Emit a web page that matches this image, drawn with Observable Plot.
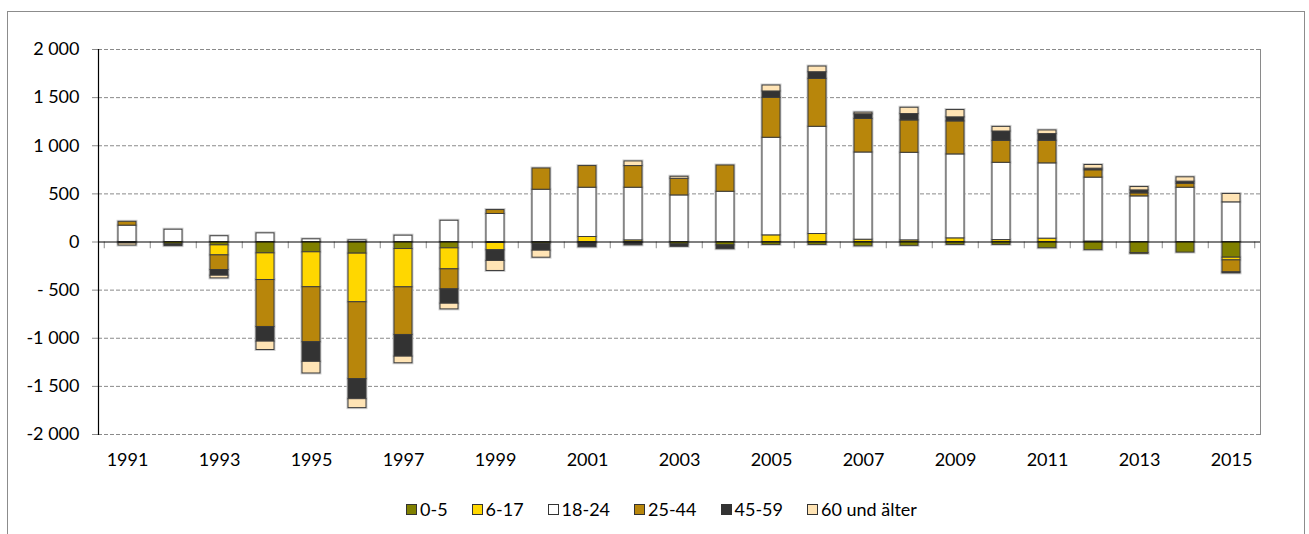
<!DOCTYPE html>
<html>
<head>
<meta charset="utf-8">
<script src="https://cdn.jsdelivr.net/npm/d3@7"></script>
<script src="https://cdn.jsdelivr.net/npm/@observablehq/plot@0.6"></script>
<style>
  html, body { margin: 0; padding: 0; background: #fff; width: 1309px; height: 534px; overflow: hidden; }
  body { font-family: Lato, "Open Sans", sans-serif; position: relative; }
  #outer { position: absolute; left: 7px; top: 11px; width: 1298px; height: 540px; border: 1px solid #8c8c8c; box-sizing: border-box; }
  #chart { position: absolute; left: 0; top: 0; }
  #legend { position: absolute; left: 406px; top: 499px; display: flex; align-items: center; font-size: 18px; line-height: 20px; color: #000; }
  #legend .item { display: flex; align-items: center; margin-right: 24px; }
  #legend .sw { width: 11px; height: 11px; box-sizing: border-box; border: 1px solid #333; margin-right: 3px; }
</style>
</head>
<body>
<div id="outer"></div>
<div id="chart"></div>
<div id="legend"></div>
<script>
const years = [1991, 1992, 1993, 1994, 1995, 1996, 1997, 1998, 1999, 2000, 2001, 2002, 2003,
               2004, 2005, 2006, 2007, 2008, 2009, 2010, 2011, 2012, 2013, 2014, 2015];
const series = ["0-5", "6-17", "18-24", "25-44", "45-59", "60 und älter"];
const colors = ["#808000", "#FFD700", "#FFFFFF", "#B8860B", "#333333", "#FFE4B5"];

const v0_5   = [0, -25, -35, -118, -107, -121, -73, -66, -10, -17, -15, -10, -25, -35, -30, -30, -45, -40, -30, -30, -65, -85, -115, -110, -163];
const v6_17  = [0, 0, -104, -277, -363, -505, -398, -218, -76, 0, 52, 17, 0, 0, 69, 83, 24, 17, 38, 20, 35, 5, -8, 0, -28];
const v18_24 = [170, 128, 60, 90, 28, 17, 66, 221, 291, 543, 512, 547, 484, 522, 1014, 1114, 906, 910, 872, 803, 782, 664, 474, 564, 412];
const v25_44 = [40, 0, -152, -488, -571, -799, -495, -208, 41, 221, 225, 225, 173, 273, 415, 498, 349, 336, 343, 228, 235, 76, 31, 42, -125];
const v45_59 = [-15, -18, -59, -152, -204, -208, -225, -149, -111, -73, -40, -25, -25, -40, 66, 69, 48, 66, 42, 97, 69, 17, 31, 21, -10];
const v60    = [-22, 0, -28, -87, -121, -93, -69, -59, -104, -73, 0, 48, 21, 0, 62, 59, 17, 66, 76, 48, 38, 38, 35, 45, 87];

const yTicks = [-2000, -1500, -1000, -500, 0, 500, 1000, 1500, 2000];
const yTickLabels = ["-2 000", "-1 500", "-1 000", "- 500", "0", "500", "1 000", "1 500", "2 000"];
const xTickLabels = ["1991", "1993", "1995", "1997", "1999", "2001", "2003", "2005", "2007", "2009", "2011", "2013", "2015"];

const allValues = [v0_5, v6_17, v18_24, v25_44, v45_59, v60];
const data = series.flatMap((s, i) => allValues[i].map((v, j) => ({year: years[j], group: s, value: v})))
                   .filter(d => d.value !== 0);

const W = 1309, ML = 98, MR = 49;
const step = (W - ML - MR) / years.length;

const chart = Plot.plot({
  width: W,
  height: 480,
  marginLeft: ML,
  marginRight: MR,
  marginTop: 49,
  marginBottom: 46,
  style: {fontFamily: "Lato, 'Open Sans', sans-serif", fontSize: "18px", color: "#000", background: "transparent", overflow: "visible"},
  x: {type: "band", domain: years, paddingInner: 0.6, paddingOuter: 0.3, label: null},
  y: {domain: [-2000, 2000], label: null},
  color: {domain: series, range: colors},
  marks: [
    Plot.ruleY(yTicks.filter(d => d !== 0), {stroke: "#8a8a8a", strokeDasharray: "4,2", strokeWidth: 1}),
    Plot.frame({anchor: "right", stroke: "#8a8a8a"}),
    Plot.axisY({ticks: yTicks, tickFormat: (d) => yTickLabels[yTicks.indexOf(d)], tickSize: 6, tickPadding: 13, stroke: "#8a8a8a", fill: "#000", label: null, fontSize: 18}),
    Plot.axisX({ticks: years.filter(y => xTickLabels.includes(String(y))), tickFormat: d => String(d), tickSize: 0, tickPadding: 19, fill: "#000", label: null, fontSize: 18}),
    Plot.barY(data, Plot.stackY({x: "year", y: "value", fill: "none", stroke: "#cfcfcf", strokeWidth: 3})),
    Plot.barY(data, Plot.stackY({x: "year", y: "value", fill: "group", stroke: "#3c3c3c", strokeWidth: 1})),
    Plot.ruleX(years, {x: d => d, y1: 0, y2: -70, dx: -step / 2, stroke: "#8a8a8a"}),
    Plot.ruleX([years[years.length - 1]], {x: d => d, y1: 0, y2: -70, dx: step / 2, stroke: "#8a8a8a"}),
    Plot.ruleY([0], {stroke: "#000", strokeWidth: 1.2}),
    Plot.frame({anchor: "left", stroke: "#000", strokeWidth: 1.2})
  ]
});
document.getElementById("chart").appendChild(chart);

const legend = document.getElementById("legend");
series.forEach((s, i) => {
  const item = document.createElement("div");
  item.className = "item";
  const sw = document.createElement("div");
  sw.className = "sw";
  sw.style.background = colors[i];
  const t = document.createElement("span");
  t.textContent = s;
  item.appendChild(sw);
  item.appendChild(t);
  legend.appendChild(item);
});
</script>
</body>
</html>
